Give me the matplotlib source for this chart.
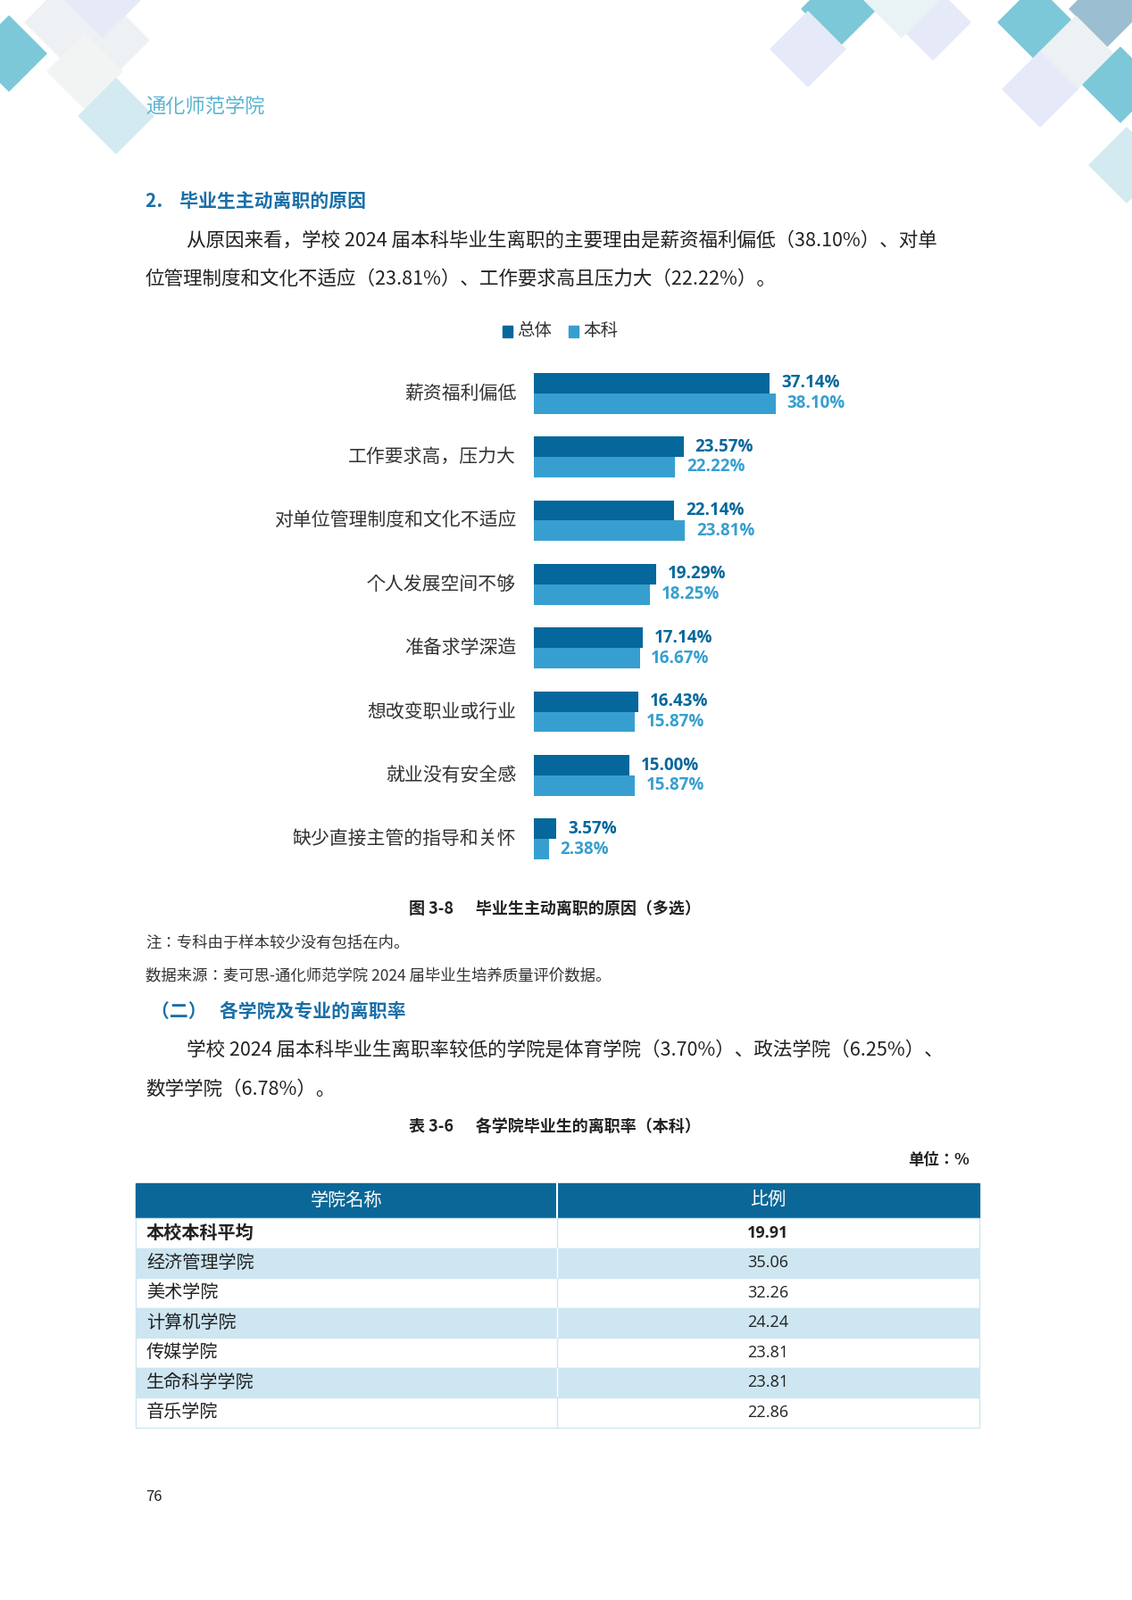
import matplotlib.pyplot as plt
from matplotlib import font_manager
from matplotlib.patches import Rectangle, RegularPolygon

cjk = [f.name for f in font_manager.fontManager.ttflist if 'CJK' in f.name and 'Sans' in f.name]
cjk_name = 'Noto Sans CJK SC' if 'Noto Sans CJK SC' in cjk else (cjk[0] if cjk else 'DejaVu Sans')
plt.rcParams['font.family'] = 'sans-serif'
plt.rcParams['font.sans-serif'] = [cjk_name, 'DejaVu Sans']

reasons = ['薪资福利偏低', '工作要求高，压力大', '对单位管理制度和文化不适应', '个人发展空间不够',
           '准备求学深造', '想改变职业或行业', '就业没有安全感', '缺少直接主管的指导和关怀']
total = [37.14, 23.57, 22.14, 19.29, 17.14, 16.43, 15.00, 3.57]
undergrad = [38.10, 22.22, 23.81, 18.25, 16.67, 15.87, 15.87, 2.38]

colleges = ['本校本科平均', '经济管理学院', '美术学院', '计算机学院', '传媒学院', '生命科学学院', '音乐学院']
rates = ['19.91', '35.06', '32.26', '24.24', '23.81', '23.81', '22.86']

dark = '#05679b'
light = '#379fcf'
blue_text = '#1a6fa8'
W, H = 1268, 1793

fig = plt.figure(figsize=(W / 100, H / 100), dpi=100)
page = fig.add_axes([0, 0, 1, 1])
page.set_xlim(0, W)
page.set_ylim(H, 0)
page.axis('off')

# decorative diamonds in the corners
deco = [(10, 60, '#7cc8d8'), (70, 25, '#eef1f3'), (125, 45, '#eef1f3'), (115, 0, '#e6eaf8'),
        (95, 80, '#f2f4f4'), (130, 130, '#d3eaf0'),
        (940, 10, '#7cc8d8'), (905, 55, '#e6eaf8'), (1045, 25, '#e6eaf8'), (1160, 25, '#7cc8d8'),
        (1240, 10, '#9bbfd0'), (1205, 60, '#eef1f3'), (1255, 95, '#7cc8d8'), (1165, 100, '#e6eaf8'),
        (1262, 185, '#d3eaf0'), (1010, 0, '#e9f3f6')]
for x, y, c in deco:
    page.add_patch(RegularPolygon((x, y), 4, radius=42, orientation=0, color=c, zorder=0))

page.text(163, 120, '通化师范学院', fontsize=16, color='#5ab4d0', va='center')
page.text(163, 226, '2.    毕业生主动离职的原因', fontsize=15, color=blue_text, va='center', fontweight='bold')
page.text(209, 270, '从原因来看，学校 2024 届本科毕业生离职的主要理由是薪资福利偏低（38.10%）、对单',
          fontsize=15.5, va='center', color='#222222')
page.text(163, 313, '位管理制度和文化不适应（23.81%）、工作要求高且压力大（22.22%）。',
          fontsize=15.5, va='center', color='#222222')

# legend
page.add_patch(Rectangle((563, 365), 11, 13, color=dark))
page.text(579, 371, '总体', fontsize=14, va='center', color='#333333')
page.add_patch(Rectangle((637, 365), 11, 13, color=light))
page.text(653, 371, '本科', fontsize=14, va='center', color='#333333')

# bar chart
ax = fig.add_axes([598 / W, 1 - 976 / H, 400 / W, 571 / H])
ax.set_xlim(0, 400 / 7.11)
ax.set_ylim(7.5, -0.5)
ax.axis('off')
ys = list(range(len(reasons)))
bh = 0.32
ax.barh([y - bh / 2 for y in ys], total, height=bh, color=dark)
ax.barh([y + bh / 2 for y in ys], undergrad, height=bh, color=light)
for y, t, u, lab in zip(ys, total, undergrad, reasons):
    ax.text(t + 1.8, y - bh / 2, f'{t:.2f}%', color=dark, fontsize=13.5, fontweight='bold',
            va='center', family='Open Sans')
    ax.text(u + 1.8, y + bh / 2, f'{u:.2f}%', color=light, fontsize=13.5, fontweight='bold',
            va='center', family='Open Sans')
    ax.text(-2.8, y, lab, ha='right', va='center', fontsize=15, color='#333333')

page.text(621, 1018, '图 3-8      毕业生主动离职的原因（多选）', fontsize=13, fontweight='bold',
          ha='center', va='center', color='#222222')
page.text(163, 1056, '注：专科由于样本较少没有包括在内。', fontsize=12.5, va='center', color='#333333')
page.text(163, 1093, '数据来源：麦可思-通化师范学院 2024 届毕业生培养质量评价数据。', fontsize=12.5,
          va='center', color='#333333')
page.text(169, 1133, '（二）   各学院及专业的离职率', fontsize=15, fontweight='bold', va='center', color=blue_text)
page.text(209, 1177, '学校 2024 届本科毕业生离职率较低的学院是体育学院（3.70%）、政法学院（6.25%）、',
          fontsize=15.5, va='center', color='#222222')
page.text(163, 1221, '数学学院（6.78%）。', fontsize=15.5, va='center', color='#222222')
page.text(621, 1262, '表 3-6      各学院毕业生的离职率（本科）', fontsize=13, fontweight='bold',
          ha='center', va='center', color='#222222')
page.text(1086, 1300, '单位：%', fontsize=12.5, fontweight='bold', ha='right', va='center', color='#222222')

# table
x0, x1, xm = 152, 1097, 624
top, hh, rh = 1326, 39, 33.5
page.add_patch(Rectangle((x0, top), x1 - x0, hh, color='#0b6797'))
page.plot([xm, xm], [top, top + hh], color='white', lw=1.5)
page.text((x0 + xm) / 2, top + hh / 2, '学院名称', color='white', fontsize=14.5, ha='center', va='center')
page.text((xm + x1) / 2, top + hh / 2, '比例', color='white', fontsize=14.5, ha='center', va='center')
for i, (name, r) in enumerate(zip(colleges, rates)):
    y = top + hh + i * rh
    fc = '#cde6f2' if i % 2 == 1 else 'white'
    page.add_patch(Rectangle((x0, y), x1 - x0, rh, facecolor=fc, edgecolor='#cde6f2', lw=1))
    page.plot([xm, xm], [y, y + rh], color='#cde6f2' if fc == 'white' else 'white', lw=1)
    fw = 'bold' if i == 0 else 'normal'
    page.text(x0 + 12, y + rh / 2, name, fontsize=14.5, fontweight=fw, va='center', color='#222222')
    page.text((xm + x1) / 2, y + rh / 2, r, fontsize=13, fontweight=fw, va='center', ha='center',
              color='#222222', family='Open Sans')

page.text(163, 1678, '76', fontsize=12, va='center', color='#222222')

fig.savefig('out.png', dpi=100)
